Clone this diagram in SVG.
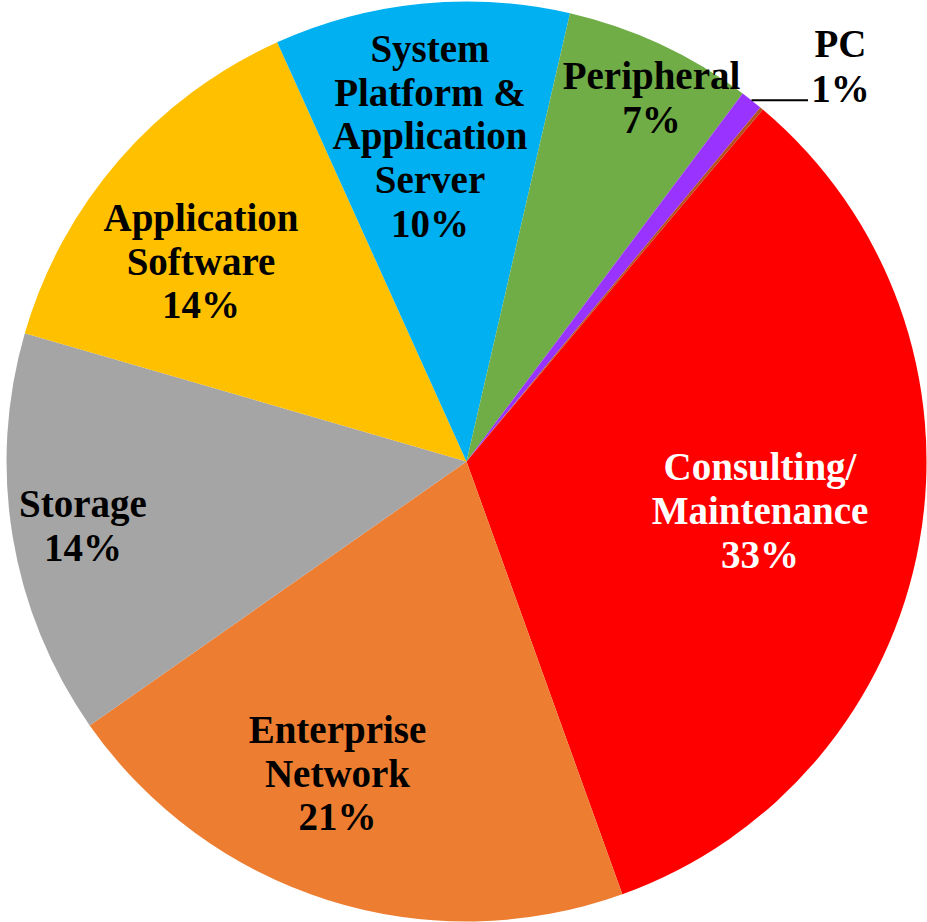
<svg xmlns="http://www.w3.org/2000/svg" width="927" height="922" viewBox="0 0 927 922">
<style>
.lbl{font-family:"Liberation Serif","Times New Roman",serif;font-weight:bold;font-size:39px;text-anchor:middle;fill:#000}
.wht{fill:#fff}
</style>
<rect width="927" height="922" fill="#fff"/>
<g id="consulting">
<path d="M466.5,461.5 L762.8,109.6 A460,460 0 0 1 622.3,894.3 Z" fill="#FF0000"/>
<text class="lbl wht" x="760" y="480">Consulting/</text>
<text class="lbl wht" x="760" y="524">Maintenance</text>
<text class="lbl wht" x="760" y="568">33%</text>
</g>
<g id="enterprise-network">
<path d="M466.5,461.5 L622.3,894.3 A460,460 0 0 1 89.7,725.4 Z" fill="#ED7D31"/>
<text class="lbl" x="337.5" y="743">Enterprise</text>
<text class="lbl" x="337.5" y="786.5">Network</text>
<text class="lbl" x="337.5" y="830">21%</text>
</g>
<g id="storage">
<path d="M466.5,461.5 L89.7,725.4 A460,460 0 0 1 24.8,333.2 Z" fill="#A5A5A5"/>
<text class="lbl" x="83" y="517">Storage</text>
<text class="lbl" x="83" y="561">14%</text>
</g>
<g id="application-software">
<path d="M466.5,461.5 L24.8,333.2 A460,460 0 0 1 277.2,42.3 Z" fill="#FFC000"/>
<text class="lbl" x="201" y="231">Application</text>
<text class="lbl" x="201" y="274.5">Software</text>
<text class="lbl" x="201" y="318">14%</text>
</g>
<g id="system-platform">
<path d="M466.5,461.5 L277.2,42.3 A460,460 0 0 1 570,13.3 Z" fill="#00B0F0"/>
<text class="lbl" x="430" y="62">System</text>
<text class="lbl" x="430" y="105.5">Platform &amp;</text>
<text class="lbl" x="430" y="149">Application</text>
<text class="lbl" x="430" y="192.5">Server</text>
<text class="lbl" x="430" y="236.5">10%</text>
</g>
<g id="peripheral">
<path d="M466.5,461.5 L570,13.3 A460,460 0 0 1 742.7,93.6 Z" fill="#70AD47"/>
<text class="lbl" x="651.5" y="88.5">Peripheral</text>
<text class="lbl" x="651.5" y="133">7%</text>
</g>
<g id="pc">
<path d="M466.5,461.5 L742.7,93.6 A460,460 0 0 1 760.3,107.6 Z" fill="#9933FF"/>
<text class="lbl" x="840.5" y="56.5">PC</text>
<text class="lbl" x="840.5" y="101.5">1%</text>
</g>
<g id="other">
<path d="M466.5,461.5 L760.3,107.6 A460,460 0 0 1 762.8,109.6 Z" fill="#B4501E"/>
</g>
<g id="connectors">
<line x1="751.5" y1="100.3" x2="808" y2="100.3" stroke="#000" stroke-width="2"/>
</g>
</svg>
